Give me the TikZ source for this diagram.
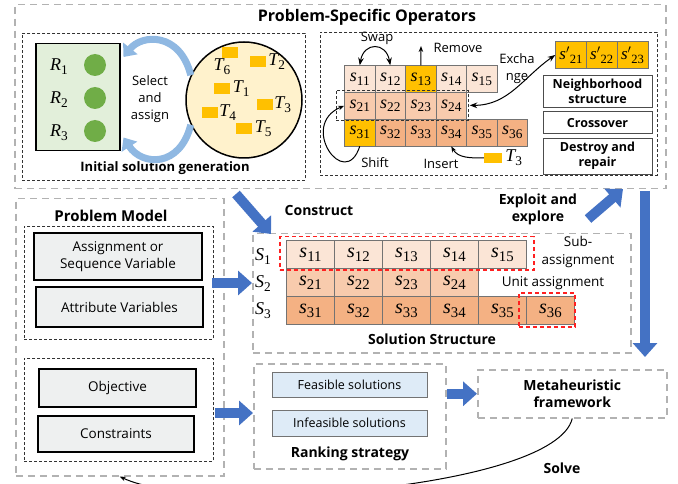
\documentclass[tikz,border=0pt]{standalone}
\usepackage{fontspec}
\setmainfont{Open Sans}
\newfontfamily\varfont{Liberation Serif}
\usetikzlibrary{arrows.meta, matrix, positioning}

\newcommand{\vsub}[2]{{\varfont\itshape #1}\raisebox{-0.22em}{\scalebox{0.74}{\varfont #2}}}

\definecolor{arrblue}{HTML}{4472C4}
\definecolor{selblue}{HTML}{8FB8E2}
\definecolor{rsgreen}{HTML}{E2EFDA}
\definecolor{dotgreen}{HTML}{70AD47}
\definecolor{poolyel}{HTML}{FFF2CC}
\definecolor{gold}{HTML}{FFC000}
\definecolor{peachA}{HTML}{FBE5D6}
\definecolor{peachB}{HTML}{F8CBAD}
\definecolor{peachC}{HTML}{F4B183}
\definecolor{varfill}{HTML}{EEF0F0}
\definecolor{feasfill}{HTML}{DEEBF7}
\definecolor{dashred}{HTML}{FF2020}

\tikzset{
  grpbox/.style={draw=gray!60, line width=1.5pt, dash pattern=on 7pt off 5pt},
  subbox/.style={draw=black!80, line width=0.7pt, dash pattern=on 3pt off 2pt},
  reddash/.style={draw=dashred, line width=1.5pt, dash pattern=on 4pt off 3pt},
  ttl/.style={font=\fontsize{14}{17}\selectfont\bfseries, align=center, inner sep=1pt},
  lbl/.style={font=\fontsize{13}{17}\selectfont, align=center, inner sep=1pt},
  mathlbl/.style={font=\fontsize{18}{20}\selectfont, inner sep=1pt},
  varbox/.style={draw, line width=1.5pt, fill=varfill, font=\fontsize{13.5}{17}\selectfont, align=center},
  solbox/.style={draw=black!55, line width=0.7pt, fill=feasfill, font=\fontsize{12.5}{15}\selectfont, minimum width=155pt},
  opbox/.style={draw=black!70, line width=0.6pt, font=\fontsize{12.5}{15}\selectfont\bfseries, align=center, minimum width=109pt, inner sep=1pt},
  task/.style={fill=gold, minimum width=16pt, minimum height=11pt, inner sep=0pt},
  dot/.style={circle, fill=dotgreen, minimum size=22pt, inner sep=0pt},
  bigarrow/.style={draw=arrblue, line width=10pt, -{Triangle[length=14pt, width=24pt]}},
  selarrow/.style={draw=selblue, line width=7pt, -{Triangle[length=11pt, width=18pt]}},
  op/.style={-{Stealth[length=6pt]}, line width=1pt}
}

\begin{document}
\begin{tikzpicture}[x=1pt, y=-1pt]
\useasboundingbox (0,0) rectangle (678,484);

% problem-specific operators
\node[grpbox, anchor=north west, minimum width=651pt, minimum height=184pt] (pso) at (14,4) {};
\node[ttl, font=\fontsize{16}{19}\selectfont\bfseries] (psotitle) at (367,17) {Problem-Specific Operators};

% initial solution generation
\node[subbox, anchor=north west, minimum width=283pt, minimum height=147pt] (initbox) at (22,33) {};
\node[ttl, font=\fontsize{13}{15}\selectfont\bfseries] (inittitle) at (165,168) {Initial solution generation};
\node[draw, line width=1.5pt, fill=rsgreen, anchor=north west, minimum width=84pt, minimum height=107pt] (rsrc) at (35,43) {};
\node[mathlbl] (r1) at (59,67) {\vsub{R}{1}};
\node[mathlbl] (r2) at (59,100) {\vsub{R}{2}};
\node[mathlbl] (r3) at (59,133) {\vsub{R}{3}};
\node[dot] (d1) at (95,65) {};
\node[dot] (d2) at (95,98) {};
\node[dot] (d3) at (95,131) {};
\node[circle, draw, line width=1.5pt, fill=poolyel, minimum size=116pt] (pool) at (244,100) {};
\node[task] (t6) at (229.5,52.5) {};
\node[task] (t2) at (258,61.5) {};
\node[task] (t1) at (221.5,88.5) {};
\node[task] (t3) at (265,104.5) {};
\node[task] (t4) at (210,112.5) {};
\node[task] (t5) at (243.5,128.5) {};
\node[mathlbl] (lt6) at (222,67) {\vsub{T}{6}};
\node[mathlbl, right=1pt of t2] (lt2) {\vsub{T}{2}};
\node[mathlbl, right=2pt of t1] (lt1) {\vsub{T}{1}};
\node[mathlbl, right=0pt of t3] (lt3) {\vsub{T}{3}};
\node[mathlbl, right=0pt of t4] (lt4) {\vsub{T}{4}};
\node[mathlbl, right=2pt of t5] (lt5) {\vsub{T}{5}};
\node[lbl] (seltxt) at (150,99) {Select\\and\\assign};
\draw[selarrow] (pool.155) .. controls (180,32) and (142,34) .. ([xshift=3pt,yshift=-14pt]rsrc.north east);
\draw[selarrow] (pool.205) .. controls (180,168) and (142,166) .. ([xshift=3pt,yshift=14pt]rsrc.south east);

% operators
\node[subbox, anchor=north west, minimum width=337pt, minimum height=143pt] (opbox) at (320,32) {};
\matrix[matrix of nodes, anchor=north west, inner sep=0pt,
  column sep=-0.6pt, row sep=-0.6pt,
  nodes={draw=black!55, line width=0.6pt, minimum width=30.5pt, minimum height=26.8pt,
    inner sep=0pt, font=\fontsize{18}{20}\selectfont},
  row 1/.style={nodes={fill=peachA}},
  row 2/.style={nodes={fill=peachB}},
  row 3/.style={nodes={fill=peachC}}] (ops) at (344,65)
{
  \vsub{s}{11} & \vsub{s}{12} & |[fill=gold]| \vsub{s}{13} & \vsub{s}{14} & \vsub{s}{15} \\
  \vsub{s}{21} & \vsub{s}{22} & \vsub{s}{23} & \vsub{s}{24} \\
  |[fill=gold]| \vsub{s}{31} & \vsub{s}{32} & \vsub{s}{33} & \vsub{s}{34} & \vsub{s}{35} & \vsub{s}{36} \\
};
\node[subbox, anchor=north west, minimum width=132pt, minimum height=30pt, inner sep=0pt] (rowtwo) at (336,90) {};
\matrix[matrix of nodes, anchor=north west, inner sep=0pt, column sep=-0.6pt,
  nodes={draw=black!55, line width=0.6pt, fill=gold, minimum width=30.8pt, minimum height=27pt,
    inner sep=0pt, font=\fontsize{17}{20}\selectfont}] (sp) at (555,41)
{
  \vsub{s$'$}{21} & \vsub{s$'$}{22} & \vsub{s$'$}{23} \\
};
\node[opbox, minimum height=32pt] (nbh) at (597.5,91) {Neighborhood\\structure};
\node[opbox, minimum height=22pt, below=4pt of nbh] (cross) {Crossover};
\node[opbox, minimum height=36pt, below=4pt of cross] (dnr) {Destroy and\\repair};

\node[lbl] (swaptxt) at (377,38) {Swap};
\draw[op, Stealth-Stealth] (ops-1-1.north) to[out=80, in=100, looseness=2] (ops-1-2.north);
\coordinate (rmtop) at (421,46);
\draw[op] (ops-1-3.north) -- (rmtop);
\node[lbl] (rmtxt) at (458,48) {Remove};
\node[lbl] (exctxt) at (517,69) {Excha\\nge};
\draw[op, Stealth-Stealth] ([xshift=1pt]rowtwo.east) to[out=0, in=215] (sp-1-1.west);
\draw[op] (ops-3-1.south) .. controls (345,192) and (298,125) .. (ops-2-1.west);
\node[lbl] (shifttxt) at (375,163) {Shift};
\node[task, minimum width=18pt, minimum height=10pt] (insq) at (493,158) {};
\node[mathlbl, right=2pt of insq] (lins) {\vsub{T}{3}};
\draw[op] (insq.west) to[out=180, in=-60] (ops-3-4.south);
\node[lbl] (instxt) at (441,164) {Insert};

% problem model
\node[grpbox, anchor=north west, minimum width=208pt, minimum height=277pt] (pm) at (15,198) {};
\node[ttl, font=\fontsize{15}{18}\selectfont\bfseries] (pmtitle) at (111,216) {Problem Model};
\node[subbox, anchor=north west, minimum width=189pt, minimum height=113pt] (vardash) at (24,226) {};
\node[varbox, minimum width=168pt, minimum height=47pt] (asgn) at (118,256.5) {Assignment or\\Sequence Variable};
\node[varbox, minimum width=167pt, minimum height=40pt] (attr) at (119.5,307) {Attribute Variables};
\node[subbox, anchor=north west, minimum width=189pt, minimum height=103pt] (condash) at (24,358) {};
\node[varbox, minimum width=157pt, minimum height=38pt] (obj) at (117.5,388) {Objective};
\node[varbox, minimum width=156pt, minimum height=36pt] (cons) at (116,434) {Constraints};

% solution structure
\node[grpbox, anchor=north west, minimum width=378pt, minimum height=119pt] (sol) at (252,233) {};
\node[ttl] (soltitle) at (432,339) {Solution Structure};
\node[mathlbl] (S1) at (263,257) {\vsub{S}{1}};
\node[mathlbl] (S2) at (263,284) {\vsub{S}{2}};
\node[mathlbl] (S3) at (263,311) {\vsub{S}{3}};
\matrix[matrix of nodes, anchor=north west, inner sep=0pt,
  column sep=-0.6pt, row sep=-0.6pt,
  nodes={draw=black!55, line width=0.6pt, minimum width=48pt, minimum height=28pt,
    inner sep=0pt, font=\fontsize{20}{22}\selectfont},
  row 1/.style={nodes={fill=peachA}},
  row 2/.style={nodes={fill=peachB}},
  row 3/.style={nodes={fill=peachC}}] (sgrid) at (286,240)
{
  \vsub{s}{11} & \vsub{s}{12} & \vsub{s}{13} & \vsub{s}{14} & \vsub{s}{15} \\
  \vsub{s}{21} & \vsub{s}{22} & \vsub{s}{23} & \vsub{s}{24} \\
  \vsub{s}{31} & \vsub{s}{32} & \vsub{s}{33} & \vsub{s}{34} & \vsub{s}{35} & \vsub{s}{36} \\
};
\node[reddash, anchor=north west, minimum width=254pt, minimum height=33pt] (subasg) at (279,236) {};
\node[reddash, anchor=north west, minimum width=56pt, minimum height=34pt] (unitasg) at (518,292) {};
\node[lbl, font=\fontsize{13.5}{18}\selectfont] (subtxt) at (578,252) {Sub-\\assignment};
\node[lbl, font=\fontsize{13.5}{18}\selectfont] (unittxt) at (553,283) {Unit assignment};

% ranking strategy
\node[grpbox, anchor=north west, minimum width=192pt, minimum height=105pt] (rank) at (253,363) {};
\node[ttl] (ranktitle) at (350,454) {Ranking strategy};
\node[solbox, minimum height=25pt] (feas) at (349.5,384.5) {Feasible solutions};
\node[solbox, minimum height=26pt] (infeas) at (349.5,423) {Infeasible solutions};

% metaheuristic framework
\node[grpbox, ttl, anchor=north west, minimum width=189pt, minimum height=48pt] (meta) at (477,369) {Metaheuristic\\framework};

% flow arrows
\node[ttl] (constxt) at (319,210) {Construct};
\node[ttl] (exptxt) at (538,209) {Exploit and\\explore};
\node[ttl] (solvetxt) at (562,468) {Solve};
\coordinate (cons0) at (236,194);
\coordinate (cons1) at (271,234);
\coordinate (exp0) at (588,219);
\coordinate (exp1) at (623,189);
\coordinate (vt0) at (645,191);
\coordinate (vt1) at (645,357);
\coordinate (pm1) at (212,283);
\coordinate (pm2) at (215,413);
\draw[bigarrow] (cons0) -- (cons1);
\draw[bigarrow] (exp0) -- (exp1);
\draw[bigarrow] (vt0) -- (vt1);
\draw[bigarrow] (pm1) -- (sol.west |- pm1);
\draw[bigarrow] (pm2) -- (rank.west |- pm2);
\draw[bigarrow] (rank.east |- meta.west) -- (meta.west);
\draw[op] (meta.south) .. controls (555,490) and (200,515) .. (pm.south);
\end{tikzpicture}
\end{document}
